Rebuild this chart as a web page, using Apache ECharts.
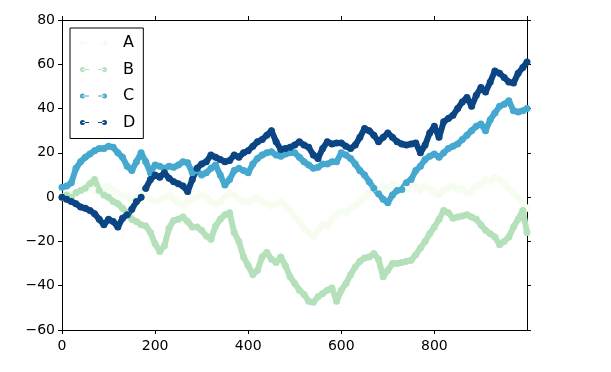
<!DOCTYPE html>
<html>
<head>
<meta charset="utf-8">
<script src="https://cdn.jsdelivr.net/npm/echarts@6/dist/echarts.min.js"></script>
<style>
  html, body { margin: 0; padding: 0; background: #fff; }
  #chart { width: 611px; height: 372px; }
</style>
</head>
<body>
<div id="chart"></div>
<script>
// step index (every 10 steps of the walk, plus the last one)
var xs = [0,10,20,30,40,50,60,70,80,90,100,110,120,130,140,150,160,170,180,190,
  200,210,220,230,240,250,260,270,280,290,300,310,320,330,340,350,360,370,380,390,
  400,410,420,430,440,450,460,470,480,490,500,510,520,530,540,550,560,570,580,590,
  600,610,620,630,640,650,660,670,680,690,700,710,720,730,740,750,760,770,780,790,
  800,810,820,830,840,850,860,870,880,890,900,910,920,930,940,950,960,970,980,990,999];

var seriesA = [0,1,2,1,3,4,5,3,2,4, 5,3,2,1,0,-1,0,2,1,-1,
  -2,-1,0,1,-1,-3,-4,-2,-1,0, 1,0,-2,-3,-2,0,2,1,-1,-2,
  -2,-1,0,-2,-3,-4,-3,-2,-4,-6, -9,-11,-14,-16,-18,-15,-12,-13,-10,-8,
  -6,-7,-5,-4,-2,0,2,4,3,5, 4,6,5,3,4,6,5,3,5,4,
  2,1,3,4,5,3,4,2,3,5, 6,8,7,9,8,6,4,2,0,-3, -5];

var seriesB = [0,1,0,2,3,4,6,8,3,1, 0,-2,-3,-5,-7,-10,-11,-12.5,-13,-16,
  -21,-24.5,-22,-14,-10.5,-10,-9,-11,-13.5,-13.5, -15,-17.5,-19,-13,-10,-8,-7,-16,-20,-27,
  -31,-35,-33,-27,-25,-28,-29.5,-27,-31,-36, -39,-42,-44,-47,-47.5,-45,-43.5,-42,-41,-47,
  -42,-39,-35,-31.5,-29,-27.5,-27,-25.5,-28,-36, -33,-30,-30,-29.5,-29,-28.5,-26,-23,-20,-16.5,
  -13.5,-10,-6,-7,-9.5,-9,-8.5,-8,-9,-10, -12.5,-15,-16.5,-18,-21.5,-20,-18,-13.5,-10,-6, -16];

var seriesC = [4.5,5,6.5,13,16,18,19.5,21,22,22, 23,22.5,20,18,14,12,16,20,16,11,
  14.5,14,13,14,13.5,14.5,16,15.5,11,12, 10,11,13,14.5,10,5.5,8,12,13,12,
  11,15,17.5,19,20,20.5,19,18.5,19.5,20, 20,18,16,14.5,13,13.5,15,15,16,16,
  20,19,17.5,15,12,10,7,4,1.5,-1, -2.5,1,3,3.5,6.5,8,12,14,17,18.5,
  19.5,18,20,22,23,24,26,28,30,32, 33,30,35,38,41,42,43.5,39,38.5,39, 40];

var seriesD = [0,-1,-2,-3,-4.5,-5,-6,-7.5,-10,-12.5, -10,-11,-13.5,-9.5,-8,-5.5,-2,0,4,8,
  10,9,11,8.5,7,6,5,2.5,8,13, 15,16,19,18,17,16,16.5,19,18,20,
  21,23,25,26,28,30,25,21.5,22,22.5, 23.5,25,23.5,22.5,19,17.5,22,25,24,24.5,
  24.5,23,22,23.5,27,31,30,28,25,27, 29,27,25,24,23.5,24,24.5,20,23.5,29,
  32,27,34,35.5,37,40,43,45,41,46, 49.5,47.5,52,57,56,54,52,51.5,56,58.5, 61];

var names = ["A", "B", "C", "D"];
var colors = ["#f7fcf0", "#b4e1ba", "#46a8cf", "#0b4584"];
var xTicks = [0, 200, 400, 600, 800];
var yTicks = [-60, -40, -20, 0, 20, 40, 60, 80];

var font = "DejaVu Sans";
var legendIcon = "path://M0,3a2.5,2.5 0 1,0 5,0a2.5,2.5 0 1,0 -5,0Z M2.5,2.4H9V3.6H2.5Z M18,2.4H24.5V3.6H18Z M22,3a2.5,2.5 0 1,0 5,0a2.5,2.5 0 1,0 -5,0Z";

function pairs(ys) {
  return xs.map(function (x, i) { return [x, ys[i]]; });
}

function makeSeries(name, ys, color) {
  return {
    name: name,
    type: "line",
    xAxisIndex: 0,
    yAxisIndex: 0,
    data: pairs(ys),
    symbol: "circle",
    symbolSize: 7,
    showSymbol: true,
    itemStyle: { color: color },
    lineStyle: { color: color, width: 6, join: "round", cap: "round" },
    emphasis: { disabled: true },
    animation: false
  };
}

function axisBase(extra) {
  var base = {
    type: "value",
    splitLine: { show: false },
    axisLine: { show: true, onZero: false, lineStyle: { color: "#000", width: 1 } },
    axisTick: { show: true, inside: false, length: 4, lineStyle: { color: "#000" } }
  };
  return Object.assign(base, extra);
}

var chart = echarts.init(document.getElementById("chart"), null, { renderer: "canvas" });

chart.setOption({
  backgroundColor: "#fff",
  animation: false,
  grid: { left: 62, top: 20, right: 84, bottom: 42 },
  legend: {
    orient: "vertical",
    left: 70,
    top: 28,
    padding: [6, 8, 7, 10],
    itemGap: 8.5,
    itemWidth: 27,
    itemHeight: 6,
    icon: legendIcon,
    borderColor: "#000",
    borderWidth: 1,
    backgroundColor: "#fff",
    data: names,
    textStyle: { fontFamily: font, fontSize: 16, color: "#000", lineHeight: 18, padding: [0, 0, 0, 11] }
  },
  xAxis: [
    axisBase({
      position: "bottom",
      min: 0, max: 999, interval: 200,
      axisLabel: {
        fontFamily: font, fontSize: 14, color: "#000", margin: 9,
        showMaxLabel: false,
        formatter: function (v) { return xTicks.indexOf(v) >= 0 ? String(v) : ""; }
      }
    }),
    axisBase({
      position: "top",
      min: 0, max: 999, interval: 200,
      axisLabel: { show: false }
    })
  ],
  yAxis: [
    axisBase({
      position: "left",
      min: -60, max: 80, interval: 20,
      axisLabel: {
        fontFamily: font, fontSize: 14, color: "#000", margin: 7,
        formatter: function (v) { return yTicks.indexOf(v) >= 0 ? String(v).replace("-", "\u2212") : ""; }
      }
    }),
    axisBase({
      position: "right",
      min: -60, max: 80, interval: 20,
      axisLabel: { show: false }
    })
  ],
  series: [
    makeSeries(names[0], seriesA, colors[0]),
    makeSeries(names[1], seriesB, colors[1]),
    makeSeries(names[2], seriesC, colors[2]),
    makeSeries(names[3], seriesD, colors[3])
  ]
});
</script>
</body>
</html>
